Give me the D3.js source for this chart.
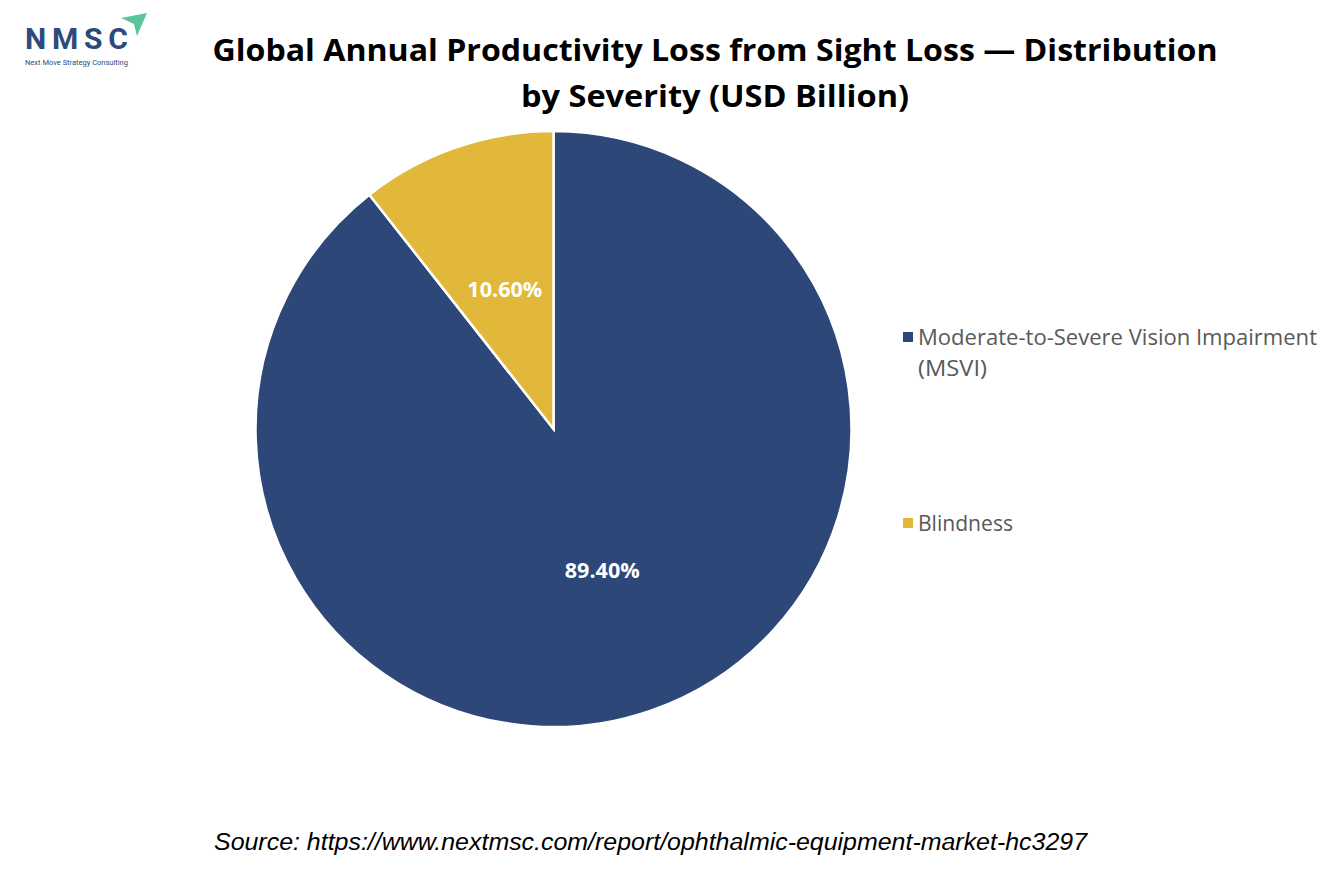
<!DOCTYPE html>
<html>
<head>
<meta charset="utf-8">
<script src="https://cdn.jsdelivr.net/npm/d3@7"></script>
<style>
  body { margin: 0; background: #fff; }
</style>
</head>
<body>
<div id="chart"></div>
<script>
// Data
var categories = ['Moderate-to-Severe Vision Impairment (MSVI)', 'Blindness'];
var shares = [89.40, 10.60];
var colors = ['#2C4778', '#E2B83B'];
var legendLines = [['Moderate-to-Severe Vision Impairment', '(MSVI)'], ['Blindness']];
var titleLines = ['Global Annual Productivity Loss from Sight Loss \u2014 Distribution', 'by Severity (USD Billion)'];
var sourceText = 'Source: https://www.nextmsc.com/report/ophthalmic-equipment-market-hc3297';

var width = 1334, height = 889;

var svg = d3.select('#chart')
  .append('svg')
  .attr('width', width)
  .attr('height', height);

// logo
var logo = svg.append('g');
logo.append('path')
  .attr('d', 'M121,18 L147,13 L137,36 L134,24 Z')
  .style('fill', '#5cc39a');
logo.append('text')
  .attr('x', 25).attr('y', 49)
  .text('NMSC')
  .attr('textLength', 103)
  .attr('lengthAdjust', 'spacing')
  .style('font-family', 'Roboto, sans-serif')
  .style('font-weight', 'bold')
  .style('font-size', '30px')
  .style('fill', '#2d4a7c');
logo.append('text')
  .attr('x', 25).attr('y', 65)
  .text('Next Move Strategy Consulting')
  .attr('textLength', 103)
  .attr('lengthAdjust', 'spacingAndGlyphs')
  .style('font-family', 'Roboto, sans-serif')
  .style('font-size', '7.5px')
  .style('fill', '#2d4a7c');

// title
var titleWidths = [1005, 388];
svg.selectAll('text.title')
  .data(titleLines)
  .enter()
  .append('text')
  .attr('class', 'title')
  .attr('x', 715)
  .attr('y', function(d, i) { return 61 + i * 46; })
  .attr('text-anchor', 'middle')
  .attr('textLength', function(d, i) { return titleWidths[i]; })
  .attr('lengthAdjust', 'spacingAndGlyphs')
  .text(function(d) { return d; })
  .style('font-family', '"Open Sans", sans-serif')
  .style('font-weight', 'bold')
  .style('font-size', '31px')
  .style('fill', '#000');

// pie
var cx = 553.5, cy = 429, radius = 298;

var pie = d3.pie().sort(null).value(function(d) { return d; });
var arcs = pie(shares);
var arc = d3.arc().innerRadius(0).outerRadius(radius);
var labelArc = d3.arc().innerRadius(radius * 0.5).outerRadius(radius * 0.5);

var pieG = svg.append('g').attr('transform', 'translate(' + cx + ',' + cy + ')');

pieG.selectAll('path')
  .data(arcs)
  .enter()
  .append('path')
  .attr('d', arc)
  .style('fill', function(d, i) { return colors[i]; })
  .style('stroke', '#fff')
  .style('stroke-width', 2.5);

pieG.selectAll('text')
  .data(arcs)
  .enter()
  .append('text')
  .attr('transform', function(d) { return 'translate(' + labelArc.centroid(d) + ')'; })
  .attr('text-anchor', 'middle')
  .attr('dy', '0.4em')
  .attr('textLength', 75)
  .attr('lengthAdjust', 'spacingAndGlyphs')
  .text(function(d) { return d.value.toFixed(2) + '%'; })
  .style('font-family', '"Open Sans", sans-serif')
  .style('font-weight', 'bold')
  .style('font-size', '21px')
  .style('fill', '#fff');

// legend
var legendY = [345, 531];
var legendWidths = [[399, 69], [95]];
var legend = svg.selectAll('g.legend')
  .data(categories)
  .enter()
  .append('g')
  .attr('class', 'legend')
  .attr('transform', function(d, i) { return 'translate(903,' + legendY[i] + ')'; });

legend.append('rect')
  .attr('x', 0).attr('y', -13)
  .attr('width', 10).attr('height', 10)
  .style('fill', function(d, i) { return colors[i]; });

legend.each(function(d, i) {
  var g = d3.select(this);
  legendLines[i].forEach(function(line, j) {
    g.append('text')
      .attr('x', 15)
      .attr('y', j * 31)
      .attr('textLength', legendWidths[i][j])
      .attr('lengthAdjust', 'spacingAndGlyphs')
      .text(line)
      .style('font-family', '"Open Sans", sans-serif')
      .style('font-size', '21px')
      .style('fill', '#595959');
  });
});

// source
svg.append('text')
  .attr('x', 214)
  .attr('y', 850)
  .attr('textLength', 873)
  .attr('lengthAdjust', 'spacingAndGlyphs')
  .text(sourceText)
  .style('font-family', '"Liberation Sans", Arial, sans-serif')
  .style('font-style', 'italic')
  .style('font-size', '23px')
  .style('fill', '#000');
</script>
</body>
</html>
